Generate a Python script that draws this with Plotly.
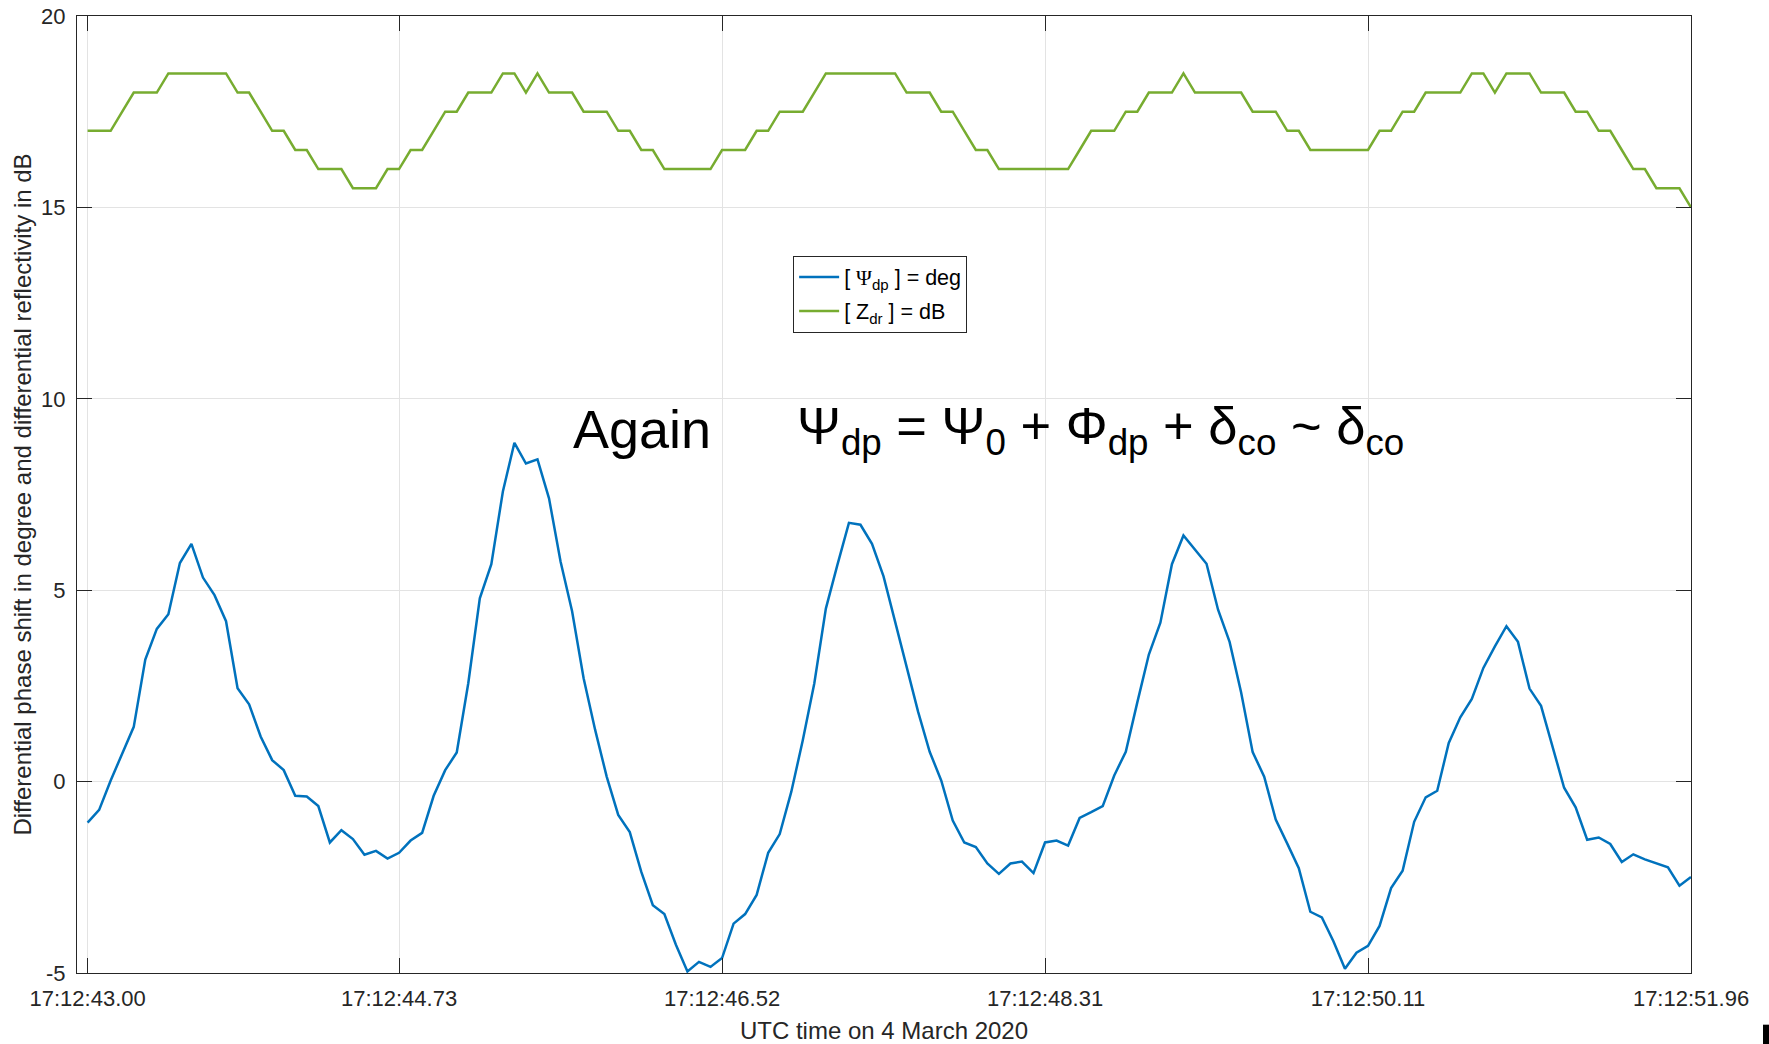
import plotly.graph_objects as go

# Sample index of each radar pulse (x positions) and the time labels for selected samples
sample_index = list(range(140))
tick_samples = [0, 27, 55, 83, 111, 139]
tick_labels = ["17:12:43.00", "17:12:44.73", "17:12:46.52",
               "17:12:48.31", "17:12:50.11", "17:12:51.96"]
y_ticks = [-5, 0, 5, 10, 15, 20]
y_tick_labels = ["-5", "0", "5", "10", "15", "20"]

# Differential phase shift Psi_dp in degree
psi_dp = [
    -1.07, -0.74, 0.03, 0.73, 1.43, 3.19, 3.99, 4.37, 5.71, 6.21,
    5.33, 4.87, 4.19, 2.44, 2.02, 1.18, 0.56, 0.30, -0.37, -0.39,
    -0.64, -1.59, -1.27, -1.50, -1.91, -1.81, -2.01, -1.86, -1.54, -1.34,
    -0.37, 0.30, 0.76, 2.57, 4.79, 5.68, 7.58, 8.85, 8.31, 8.42,
    7.40, 5.75, 4.45, 2.70, 1.35, 0.13, -0.87, -1.32, -2.36, -3.23,
    -3.46, -4.26, -4.96, -4.71, -4.84, -4.61, -3.71, -3.46, -2.96, -1.86,
    -1.37, -0.27, 1.08, 2.57, 4.52, 5.66, 6.76, 6.71, 6.21, 5.36,
    4.17, 2.97, 1.82, 0.78, 0.03, -1.02, -1.59, -1.71, -2.14, -2.41,
    -2.14, -2.09, -2.39, -1.59, -1.54, -1.67, -0.95, -0.80, -0.64, 0.16,
    0.78, 2.07, 3.32, 4.15, 5.68, 6.43, 6.07, 5.69, 4.49, 3.65,
    2.33, 0.77, 0.13, -0.99, -1.62, -2.26, -3.40, -3.55, -4.17, -4.89,
    -4.47, -4.29, -3.77, -2.78, -2.33, -1.05, -0.41, -0.24, 1.01, 1.68,
    2.16, 2.97, 3.53, 4.06, 3.65, 2.43, 1.98, 0.93, -0.16, -0.67,
    -1.52, -1.46, -1.63, -2.10, -1.90, -2.03, -2.14, -2.24, -2.72, -2.49,
]

# Differential reflectivity Z_dr in dB
z_dr = [
    17.0, 17.0, 17.0, 17.5, 18.0, 18.0, 18.0, 18.5, 18.5, 18.5,
    18.5, 18.5, 18.5, 18.0, 18.0, 17.5, 17.0, 17.0, 16.5, 16.5,
    16.0, 16.0, 16.0, 15.5, 15.5, 15.5, 16.0, 16.0, 16.5, 16.5,
    17.0, 17.5, 17.5, 18.0, 18.0, 18.0, 18.5, 18.5, 18.0, 18.5,
    18.0, 18.0, 18.0, 17.5, 17.5, 17.5, 17.0, 17.0, 16.5, 16.5,
    16.0, 16.0, 16.0, 16.0, 16.0, 16.5, 16.5, 16.5, 17.0, 17.0,
    17.5, 17.5, 17.5, 18.0, 18.5, 18.5, 18.5, 18.5, 18.5, 18.5,
    18.5, 18.0, 18.0, 18.0, 17.5, 17.5, 17.0, 16.5, 16.5, 16.0,
    16.0, 16.0, 16.0, 16.0, 16.0, 16.0, 16.5, 17.0, 17.0, 17.0,
    17.5, 17.5, 18.0, 18.0, 18.0, 18.5, 18.0, 18.0, 18.0, 18.0,
    18.0, 17.5, 17.5, 17.5, 17.0, 17.0, 16.5, 16.5, 16.5, 16.5,
    16.5, 16.5, 17.0, 17.0, 17.5, 17.5, 18.0, 18.0, 18.0, 18.0,
    18.5, 18.5, 18.0, 18.5, 18.5, 18.5, 18.0, 18.0, 18.0, 17.5,
    17.5, 17.0, 17.0, 16.5, 16.0, 16.0, 15.5, 15.5, 15.5, 15.0,
]

FONT = "Liberation Sans, Arial, Helvetica, sans-serif"
AXIS_COLOR = "#262626"
GRID_COLOR = "#e3e3e3"
PSI_SYMBOL = "<span style='font-family:Liberation Serif, Times New Roman, serif'>Ψ</span>"

fig = go.Figure()
fig.add_trace(go.Scatter(
    x=sample_index, y=psi_dp, mode="lines",
    line=dict(color="#0072BD", width=2.5),
    name="[ " + PSI_SYMBOL + "<sub>dp</sub> ] = deg",
    legendgroup="psi",
))
fig.add_trace(go.Scatter(
    x=sample_index, y=z_dr, mode="lines",
    line=dict(color="#77AC30", width=2.5),
    name="[ Z<sub>dr</sub> ] = dB",
    legendgroup="zdr",
))

# Large text statement placed inside the axes
fig.add_annotation(
    x=41.9, y=9.2, xref="x", yref="y", xanchor="left", yanchor="middle",
    text="Again", showarrow=False,
    font=dict(family=FONT, size=54, color="black"),
)
fig.add_annotation(
    x=61.3, y=9.2, xref="x", yref="y", xanchor="left", yanchor="middle",
    text="Ψ<sub>dp</sub> = Ψ<sub>0</sub> + Φ<sub>dp</sub> + δ<sub>co</sub> ~ δ<sub>co</sub>",
    showarrow=False,
    font=dict(family=FONT, size=52.5, color="black"),
)

axis_common = dict(
    showline=True, linecolor=AXIS_COLOR, linewidth=1, mirror="ticks",
    ticks="inside", ticklen=15, tickwidth=1, tickcolor=AXIS_COLOR,
    showgrid=True, gridcolor=GRID_COLOR, gridwidth=1, zeroline=False,
    automargin=False,
    tickfont=dict(family=FONT, size=22, color=AXIS_COLOR),
)

fig.update_xaxes(
    range=[-0.92, 139], tickvals=tick_samples, ticktext=tick_labels,
    ticklabelstandoff=6,
    title=dict(text="UTC time on 4 March 2020", standoff=11,
               font=dict(family=FONT, size=24, color=AXIS_COLOR)),
    **axis_common,
)
fig.update_yaxes(
    range=[-5, 20], tickvals=y_ticks, ticktext=y_tick_labels,
    ticklabelstandoff=6,
    title=dict(text="Differential phase shift in degree and differential reflectivity in dB",
               standoff=2, font=dict(family=FONT, size=24, color=AXIS_COLOR)),
    **axis_common,
)

# Small dark block at the lower right corner of the figure
fig.add_shape(type="rect", xref="paper", yref="paper",
              x0=1.0446, x1=1.06, y0=-0.054, y1=-0.08,
              fillcolor="black", line=dict(width=0), layer="above")

fig.update_layout(
    width=1769, height=1044,
    margin=dict(l=77, r=78, t=16, b=71, pad=0),
    paper_bgcolor="white", plot_bgcolor="white",
    showlegend=True,
    legend=dict(
        x=0.4437, y=0.7496, xanchor="left", yanchor="top",
        bgcolor="white", bordercolor="#262626", borderwidth=1,
        font=dict(family=FONT, size=21.5, color="black"),
        itemwidth=40, tracegroupgap=3,
    ),
)

fig.write_html("out.html")
